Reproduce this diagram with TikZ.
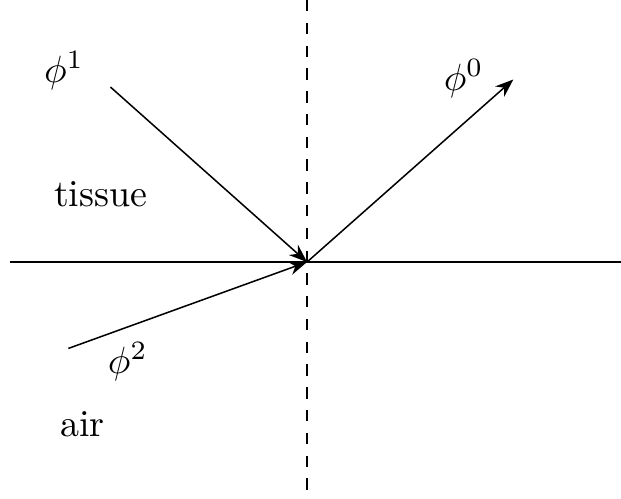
\documentclass[tikz,border=0pt]{standalone}
\usepackage{tikz}
\usetikzlibrary{arrows.meta}

\begin{document}
\begin{tikzpicture}[scale=1, >=Stealth]
\useasboundingbox (-2.843,-2.185) rectangle (2.907,2.426);

\coordinate (o) at (0,0);
\coordinate (hl) at (-2.75,0);
\coordinate (hr) at (2.907,0);
\coordinate (vt) at (0,2.426);
\coordinate (vb) at (0,-2.185);

\coordinate (s1) at (-1.82,1.62);
\coordinate (s2) at (-2.21,-0.80);
\coordinate (s0) at (1.91,1.69);

\node (p1) at (-2.25,1.77) {$\phi^1$};
\node (p0) at (1.45,1.70) {$\phi^0$};
\node (p2) at (-1.66,-0.92) {$\phi^2$};
\node (tissue) at (-1.91,0.625) {tissue};
\node (air) at (-2.08,-1.50) {air};

\draw (hl) -- (hr);
\draw[dashed] (vt) -- (vb);

\draw[->] (s1) -- (o);
\draw[->] (s2) -- (o);
\draw[->] (o) -- (s0);

\end{tikzpicture}
\end{document}
